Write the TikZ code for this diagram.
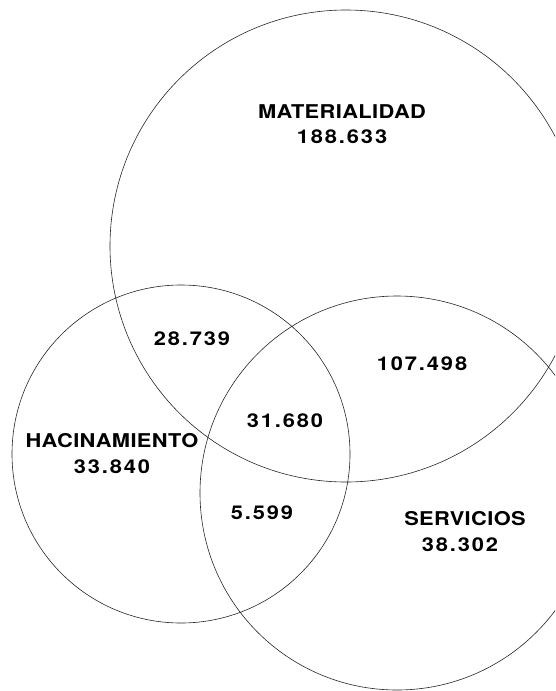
\documentclass[tikz,border=0pt]{standalone}
\usepackage{fontspec}
\newfontfamily\labelfont[FakeStretch=1.15,LetterSpace=2]{TeX Gyre Heros}
\newfontfamily\numfont[FakeStretch=1.15,LetterSpace=10]{TeX Gyre Heros}
\begin{document}
\begin{tikzpicture}[x=1pt, y=-1pt, line join=round, line cap=round,
	set/.style={draw=black!85, line width=0.6pt},
	setname/.style={font=\labelfont\bfseries\fontsize{19}{19}\selectfont, inner sep=0pt},
	count/.style={font=\numfont\bfseries\fontsize{19}{19}\selectfont, inner sep=0pt}]
	\useasboundingbox (0,0) rectangle (555,691);
	\clip (0,0) rectangle (555,691);
	% centres of the three sets
	\coordinate (M) at (346,246);
	\coordinate (H) at (181,454);
	\coordinate (S) at (397,493);
	\draw[set] (M) circle (236pt) (H) circle (169pt) (S) circle (197pt);
	% names and totals
	\node[setname] (matname) at (342,112) {MATERIALIDAD};
	\node[count] (matnum) at (342,137) {188.633};
	\node[setname] (hacname) at (112,441) {HACINAMIENTO};
	\node[count] (hacnum) at (112,467) {33.840};
	\node[setname] (sername) at (465,519) {SERVICIOS};
	\node[count] (sernum) at (460,545) {38.302};
	% overlaps
	\node[count] (mh) at (192,339) {28.739};
	\node[count] (ms) at (422,364) {107.498};
	\node[count] (mhs) at (285,421) {31.680};
	\node[count] (hs) at (262,513) {5.599};
\end{tikzpicture}
\end{document}
